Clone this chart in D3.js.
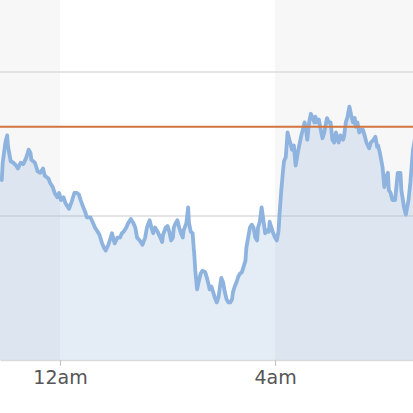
<!DOCTYPE html>
<html>
<head>
  <meta charset="utf-8">
  <title>Overnight trace</title>
  <script src="https://d3js.org/d3.v7.min.js"></script>
  <style>
    html, body { margin: 0; padding: 0; background: #fff; }
    svg { display: block; }
    .band { fill: #f7f7f8; }
    .grid line { stroke: #dcdcdc; stroke-width: 1.5; }
    .area { fill: rgba(120, 160, 210, 0.2); }
    .trace { fill: none; stroke: #8db3de; stroke-width: 3.8; stroke-linejoin: round; }
    .limit { stroke: #d2753f; stroke-width: 2; }
    .x-axis path { stroke: #dadada; stroke-width: 1.5; }
    .x-axis line { stroke: #c4c4c4; }
    .x-axis text { font-family: "DejaVu Sans", sans-serif; font-size: 19px; fill: #555; }
  </style>
</head>
<body>
  <svg id="chart" width="413" height="413"></svg>

  <script>
    // minutes relative to midnight, and the reading at that moment
    const minutes = [
      -67, -65, -64, -61, -59, -58, -55, -52, -49, -47, -44, -41, -38, -35, -33, -32,
      -28, -25, -22, -19, -17, -13, -11, -8, -6, -3, -1, 1, 4, 6, 7, 10, 13, 16, 19,
      21, 23, 26, 28, 30, 32, 34, 37, 39, 42, 44, 47, 49, 51, 54, 58, 60, 61, 64, 67,
      69, 71, 74, 76, 79, 82, 84, 86, 89, 92, 95, 97, 100, 102, 104, 106, 109, 112,
      114, 115, 118, 120, 122, 124, 126, 127, 129, 131, 133, 135, 137, 138, 141, 143,
      144, 146, 148, 150, 151, 153, 155, 157, 159, 162, 164, 166, 167, 169, 171, 173,
      175, 177, 179, 180, 182, 184, 186, 188, 190, 192, 193, 195, 197, 199, 201, 203,
      205, 207, 208, 210, 212, 214, 216, 218, 220, 221, 223, 225, 227, 229, 231, 233,
      234, 236, 238, 240, 242, 244, 245, 247, 249, 250, 252, 254, 256, 259, 261, 263,
      266, 269, 271, 273, 275, 276, 278, 280, 282, 284, 285, 287, 289, 291, 293, 295,
      297, 298, 300, 302, 304, 306, 308, 310, 311, 313, 316, 317, 319, 321, 323, 325,
      327, 329, 330, 332, 334, 336, 338, 340, 342, 345, 347, 350, 352, 354, 355, 357,
      360, 362, 364, 366, 367, 369, 371, 374, 377, 380, 381, 384, 386, 389, 391, 394, 396
    ];
    const readings = [
      126, 125, 137, 151, 156, 148, 138, 137, 135, 133, 137, 136, 140, 146, 144, 139,
      137, 131, 130, 133, 128, 126, 123, 120, 116, 113, 116, 111, 113, 109, 108, 105, 110, 116, 116,
      115, 111, 106, 103, 99, 99, 99, 95, 92, 89, 87, 81, 78, 76, 80, 88, 83, 81, 85, 85,
      88, 89, 92, 95, 98, 95, 92, 85, 83, 80, 85, 92, 97, 92, 88, 92, 89, 85,
      82, 87, 92, 93, 89, 83, 85, 92, 95, 97, 92, 88, 85, 90, 95, 106,
      95, 89, 88, 72, 62, 49, 55, 60, 62, 61, 57, 52, 49, 51, 47, 43,
      40, 44, 53, 57, 54, 47, 42, 40, 40, 42, 47, 51, 54, 58, 60, 61,
      65, 69, 78, 85, 92, 94, 92, 85, 83, 92, 96, 106, 97, 88, 90, 89,
      96, 92, 88, 85, 83, 90, 101, 118, 132, 138, 141, 158, 153, 146, 149, 135,
      146, 155, 160, 165, 158, 153, 165, 171, 168, 165, 169, 165, 167, 160, 154, 158,
      165, 168, 165, 165, 153, 151, 158, 153, 151, 156, 153, 155, 165, 169, 176, 170,
      165, 168, 162, 165, 158, 160, 160, 156, 151, 147, 151, 153, 155, 148, 149, 144,
      134, 120, 127, 130, 118, 116, 111, 111, 130, 130, 118, 106, 101, 111, 123, 146, 153
    ];

    const viewStart = -67;   // minutes
    const viewEnd = 394;
    const shadedPeriods = [[-240, 0], [240, 480]];
    const tickMinutes = [0, 240];
    const tickLabels = ["12am", "4am"];
    const gridValues = [100, 200];
    const limitValue = 162;

    const midnight = new Date(2024, 0, 15, 0, 0);
    const at = (m) => new Date(midnight.getTime() + m * 60000);

    const data = minutes.map((m, i) => ({ time: at(m), value: readings[i] }));

    const svg = d3.select("#chart");
    const width = 413;
    const plotBottom = 360;

    const x = d3.scaleTime()
      .domain([at(viewStart), at(viewEnd)])
      .range([0, width]);

    const y = d3.scaleLinear()
      .domain([0, 250])
      .range([plotBottom, 0]);

    const plot = svg.append("g");

    plot.append("defs").append("clipPath").attr("id", "clip")
      .append("rect").attr("width", width).attr("height", plotBottom);

    // night / day shading
    plot.selectAll(".band")
      .data(shadedPeriods)
      .enter()
      .append("rect")
      .attr("class", "band")
      .attr("clip-path", "url(#clip)")
      .attr("x", (d) => x(at(d[0])))
      .attr("y", 0)
      .attr("width", (d) => x(at(d[1])) - x(at(d[0])))
      .attr("height", plotBottom);

    // horizontal grid
    plot.append("g")
      .attr("class", "grid")
      .selectAll("line")
      .data(gridValues)
      .enter()
      .append("line")
      .attr("x1", 0)
      .attr("x2", width)
      .attr("y1", (d) => y(d))
      .attr("y2", (d) => y(d));

    // area + trace
    const area = d3.area()
      .x((d) => x(d.time))
      .y0(y(0))
      .y1((d) => y(d.value));

    const line = d3.line()
      .x((d) => x(d.time))
      .y((d) => y(d.value));

    plot.append("path")
      .datum(data)
      .attr("class", "area")
      .attr("clip-path", "url(#clip)")
      .attr("d", area);

    plot.append("path")
      .datum(data)
      .attr("class", "trace")
      .attr("clip-path", "url(#clip)")
      .attr("d", line);

    // upper limit
    plot.append("line")
      .attr("class", "limit")
      .attr("x1", 0)
      .attr("x2", width)
      .attr("y1", y(limitValue))
      .attr("y2", y(limitValue));

    // time axis
    const xAxis = d3.axisBottom(x)
      .tickValues(tickMinutes.map(at))
      .tickFormat((d, i) => tickLabels[i])
      .tickSize(6)
      .tickSizeOuter(0)
      .tickPadding(5);

    svg.append("g")
      .attr("class", "x-axis")
      .attr("transform", `translate(0,${plotBottom})`)
      .call(xAxis);
  </script>
</body>
</html>
